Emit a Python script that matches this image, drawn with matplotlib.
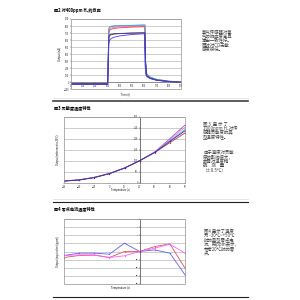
import matplotlib
matplotlib.use("Agg")
import matplotlib.pyplot as plt
from matplotlib.patches import Rectangle
from matplotlib.lines import Line2D

plt.rcParams['font.family'] = ['Noto Sans CJK SC', 'DejaVu Sans']

# ---------------- data ----------------
# Chart 1: response to 400ppm H2
time_s = [0, 100, 200, 300, 305, 310, 320, 350, 400, 500, 600, 605, 610, 620, 650, 700, 800, 900]
resp_purple = [-20, -20, -20, -20, 400, 760, 790, 800, 805, 810, 815, 815, 300, 110, 70, 40, 15, 5]
resp_pink = [-25, -25, -25, -25, 380, 740, 770, 780, 790, 795, 800, 800, 290, 100, 65, 35, 12, 3]
resp_red = [-30, -30, -30, -30, 360, 720, 750, 765, 775, 785, 790, 790, 280, 95, 60, 32, 10, 0]
resp_cyan = [-15, -15, -15, -15, 420, 770, 795, 800, 805, 808, 810, 810, 310, 115, 72, 42, 16, 6]
resp_maroon = [-25, -25, -25, -25, 330, 640, 670, 685, 692, 700, 705, 705, 260, 90, 55, 30, 10, 0]
resp_navy = [-20, -20, -20, -20, 340, 660, 680, 690, 695, 700, 702, 702, 265, 92, 58, 32, 12, 2]
resp_blue = [-30, -30, -30, -30, 250, 560, 610, 640, 660, 680, 690, 300, 120, 80, 50, 28, 8, -2]
resp_series = [resp_purple, resp_pink, resp_red, resp_cyan, resp_maroon, resp_navy, resp_blue]
resp_colors = ['#8040c0', '#ff70c0', '#e04848', '#40b8d8', '#903050', '#404080', '#4040f0']
c1_yticks = [-100, 0, 100, 200, 300, 400, 500, 600, 700, 800, 900]
c1_xticks = [0, 100, 200, 300, 400, 500, 600, 700, 800, 900]

# Chart 2: sensitivity vs temperature
temps = [-30, -20, -10, 0, 10, 20, 30, 40, 50]
sens_purple = [8, 13, 24, 42, 67, 100, 140, 200, 262]
sens_pink = [8, 13, 24, 42, 67, 100, 139, 195, 252]
sens_cyan = [8, 13, 24, 41, 67, 100, 138, 190, 242]
sens_blue = [7, 12, 23, 41, 66, 100, 138, 188, 236]
sens_red = [8, 13, 24, 42, 67, 100, 137, 182, 226]
sens_series = [sens_purple, sens_pink, sens_cyan, sens_red, sens_blue]
sens_colors = ['#a050c0', '#ff80c0', '#40c0e0', '#c04040', '#3030c0']
c2_yticks = [0, 50, 100, 150, 200, 250, 300]

# Chart 3: zero current vs temperature
zero_blue = [-0.49, -0.20, -0.20, -0.33, 1.02, 0, 0.20, -0.20, -2.87]
zero_red = [-0.74, -0.49, -0.45, -0.74, 0.0, 0, 0.61, 0.94, -2.05]
zero_pink = [-0.49, -0.41, -0.41, -0.74, -0.53, 0, 0.41, 0.90, -0.20]
zero_series = [zero_blue, zero_red, zero_pink]
zero_colors = ['#6060f0', '#e05060', '#ff60ff']
c3_yticks = [-4, -3, -2, -1, 0, 1, 2, 3, 4]

titles = ['图2 对400ppm H₂的反应', '图3 灵敏度温度特性', '图4 零点电流温度特性']
text1 = ['氢气传感器对氢', '气的响应度高且', '输出一致性好。', '同时对CO无敏', '感度很低。']
text2a = ['图 3  显 示 了', '1000ppm H₂对传', '感器灵敏度的典', '型温度特性。']
text2b = ['由于温度对灵敏', '度的影响很大，', '故需对温度精', '确    测    量', '（±0.5℃）']
text3 = ['图4 显示了温度', '为 -30℃~+50℃', '时的典型零点电', '流，用ppm表示，', '参考20℃时的零', '点。']

# ---------------- figure ----------------
W = H = 300
fig = plt.figure(figsize=(3, 3), dpi=100, facecolor='white')


def fx(px):
    return px / W


def fy(py):
    return 1 - py / H


def axes_px(x0, y0, x1, y1):
    return fig.add_axes([fx(x0), fy(y1), fx(x1) - fx(x0), fy(y0) - fy(y1)])


def style(ax):
    for s in ax.spines.values():
        s.set_visible(False)
    ax.add_patch(Rectangle((0, 0), 1, 1, transform=ax.transAxes, fill=False,
                           edgecolor='#909090', lw=0.5, zorder=5, clip_on=False))
    ax.grid(axis='y', color='#a8a8a8', lw=0.4)
    ax.set_axisbelow(True)
    ax.tick_params(labelsize=1.8, length=0.8, width=0.3, pad=0.5, colors='#303030')


# Chart 1
ax1 = axes_px(71, 19, 181, 89.3)
for ser, col in zip(resp_series, resp_colors):
    ax1.plot(time_s, ser, color=col, lw=0.6)
ax1.set_xlim(0, 900)
ax1.set_ylim(-100, 900)
ax1.set_yticks(c1_yticks)
ax1.set_xticks(c1_xticks)
style(ax1)
ax1.spines['bottom'].set_visible(True)
ax1.spines['bottom'].set_position(('data', 0))
ax1.spines['bottom'].set_color('#606060')
ax1.spines['bottom'].set_linewidth(0.4)
ax1.set_ylabel('Output (nA)', fontsize=1.8, labelpad=1)
fig.text(fx(126), fy(94), 'Time (s)', fontsize=1.8, ha='center', va='center')

# Chart 2
ax2 = axes_px(64, 116.7, 185, 182.7)
for ser, col in zip(sens_series, sens_colors):
    ax2.plot(temps, ser, color=col, lw=0.6, marker='s', ms=0.8, mew=0)
ax2.set_xlim(-30, 50)
ax2.set_ylim(0, 300)
ax2.set_xticks(temps)
ax2.set_yticks(c2_yticks)
style(ax2)
ax2.spines['left'].set_visible(True)
ax2.spines['left'].set_position(('data', 20))
ax2.spines['left'].set_color('#404040')
ax2.spines['left'].set_linewidth(0.5)
ax2.set_ylabel('Output (reference to 20°C)', fontsize=1.8)
ax2.yaxis.set_label_coords(-0.03, 0.5)
fig.text(fx(120), fy(190), 'Temperature (c)', fontsize=1.8, ha='center', va='center')

# Chart 3
ax3 = axes_px(64, 219, 185, 284)
for ser, col in zip(zero_series, zero_colors):
    ax3.plot(temps, ser, color=col, lw=0.6, marker='s', ms=0.8, mew=0)
ax3.set_xlim(-30, 50)
ax3.set_ylim(-4, 4)
ax3.set_xticks([])
ax3.set_yticks(c3_yticks)
style(ax3)
ax3.tick_params(labelsize=1.5)
ax3.spines['left'].set_visible(True)
ax3.spines['left'].set_position(('data', 20))
ax3.spines['left'].set_color('#404040')
ax3.spines['left'].set_linewidth(0.5)
ax3.set_ylabel('Output (equivalent (ppm))', fontsize=1.8)
ax3.yaxis.set_label_coords(-0.03, 0.5)
fig.text(fx(120), fy(288), 'Temperature (c)', fontsize=1.8, ha='center', va='center')

# Titles
for ty, t in zip([10.5, 107.5, 208.5], titles):
    fig.text(fx(54), fy(ty), t, fontsize=3, fontweight='bold', ha='left', va='center')

# Side texts
def block(lines, x, y0, dy):
    for i, ln in enumerate(lines):
        fig.text(fx(x), fy(y0 + i * dy), ln, fontsize=3.2, ha='left', va='center', color='#404040')

block(text1, 202, 32, 4.4)
block(text2a, 203, 123.5, 4.5)
block(text2b, 203, 152.3, 4.5)
block(text3, 204, 231, 4.5)

# Horizontal rules
for yy, col, lw in [(98, '#d0d0d0', 0.4), (100.7, '#404040', 1.2), (199, '#d0d0d0', 0.4),
                    (202, '#202020', 0.8), (297, '#202020', 0.8)]:
    fig.add_artist(Line2D([fx(53), fx(248)], [fy(yy), fy(yy)], color=col, lw=lw,
                          transform=fig.transFigure))

fig.savefig('out.png', dpi=100, facecolor='white')
